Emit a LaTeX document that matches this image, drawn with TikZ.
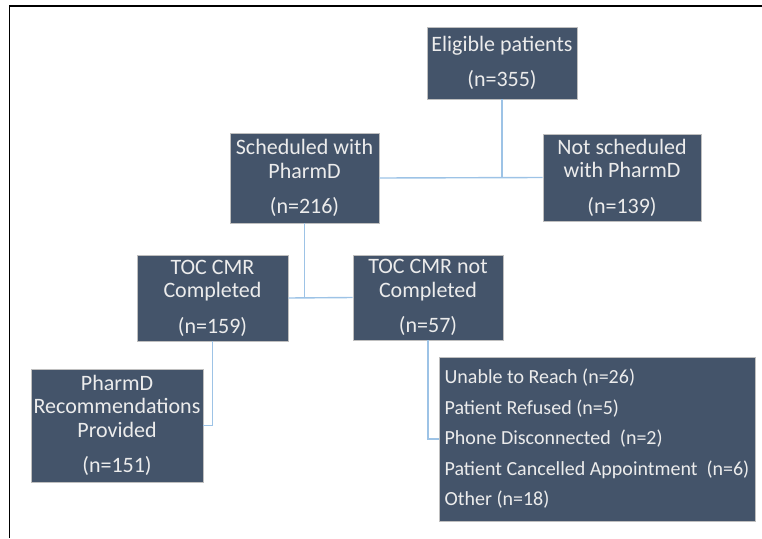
\documentclass[tikz,border=0pt]{standalone}
\usepackage{fontspec}
\setmainfont{Carlito}
\definecolor{boxfill}{HTML}{44546A}
\definecolor{boxtext}{HTML}{ECECEC}
\definecolor{linkblue}{HTML}{9DC3E6}
\begin{document}
\begin{tikzpicture}[x=1pt,y=-1pt,
  flowbox/.style={draw=black!25,line width=0.6pt,fill=boxfill,text=boxtext,align=center,inner sep=0pt,font=\fontsize{22}{23.5}\selectfont},
  link/.style={draw=linkblue,line width=1.4pt}]
\useasboundingbox (0,0) rectangle (762,538);
\draw[line width=1.5pt] (9.5,538) -- (9.5,6) -- (762,6);
\node[flowbox,minimum width=150pt,minimum height=72pt] (elig) at (502,63) {Eligible patients\\[12pt](n=355)};
\node[flowbox,minimum width=149pt,minimum height=90pt] (sched) at (304.5,178) {Scheduled with\\PharmD\\[12pt](n=216)};
\node[flowbox,minimum width=158pt,minimum height=87pt] (notsched) at (622,177.5) {Not scheduled\\with PharmD\\[12pt](n=139)};
\node[flowbox,minimum width=151pt,minimum height=86pt] (tocdone) at (212.5,298) {TOC CMR\\Completed\\[12pt](n=159)};
\node[flowbox,minimum width=150pt,minimum height=85pt] (tocnot) at (428,297.5) {TOC CMR not\\Completed\\[12pt](n=57)};
\node[flowbox,minimum width=172pt,minimum height=113pt] (recs) at (117,425.5) {PharmD\\Recommendations\\Provided\\[12pt](n=151)};
\node[flowbox,align=left,minimum width=316pt,minimum height=164pt,font=\fontsize{20}{30.5}\selectfont] (reasons) at (597,439) {Unable to Reach (n=26)\\Patient Refused (n=5)\\Phone Disconnected\ \ (n=2)\\Patient Cancelled Appointment\ \ (n=6)\\Other (n=18)};
\draw[link] (sched.east) -- (notsched.west);
\draw[link] (elig.south) -- (elig.south |- sched.east);
\draw[link] (tocdone.east) -- (tocnot.west);
\draw[link] (sched.south) -- (sched.south |- tocdone.east);
\draw[link] (tocdone.south) |- (recs.east);
\draw[link] (tocnot.south) |- (reasons.west);
\end{tikzpicture}
\end{document}
